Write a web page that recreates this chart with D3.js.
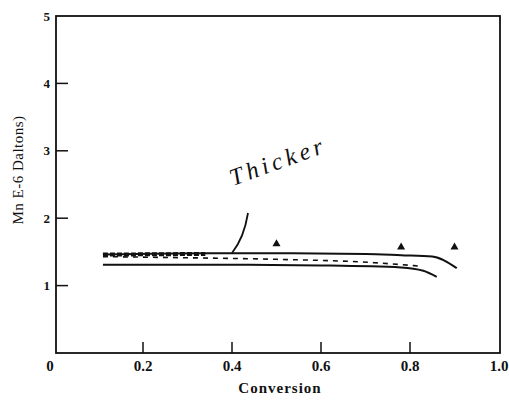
<!DOCTYPE html>
<html>
<head>
<meta charset="utf-8">
<script src="https://cdn.jsdelivr.net/npm/d3@7"></script>
<style>
  body { margin: 0; background: #fff; }
  svg { display: block; }
  text { font-family: "Liberation Serif", "DejaVu Serif", serif; fill: #111; }
</style>
</head>
<body>
<div id="chart"></div>
<script>
// data
const xTicks = [0, 0.2, 0.4, 0.6, 0.8, 1.0];
const xTickLabels = ["0", "0.2", "0.4", "0.6", "0.8", "1.0"];
const yTicks = [1, 2, 3, 4, 5];

const solidTop = [[0.11, 1.46], [0.35, 1.48], [0.5, 1.48], [0.7, 1.47], [0.78, 1.45], [0.85, 1.43], [0.905, 1.26]];
const thickPart = [[0.11, 1.46], [0.34, 1.47]];
const dashed = [[0.11, 1.43], [0.33, 1.41], [0.5, 1.39], [0.72, 1.34], [0.82, 1.29]];
const solidBottom = [[0.11, 1.31], [0.4, 1.31], [0.6, 1.30], [0.78, 1.27], [0.83, 1.22], [0.86, 1.13]];
const triangles = [[0.5, 1.62], [0.78, 1.57], [0.9, 1.57]];

const width = 509, height = 400;
const svg = d3.select("#chart").append("svg")
    .attr("width", width)
    .attr("height", height);

const x = d3.scaleLinear().domain([0, 1]).range([54, 499]);
const y = d3.scaleLinear().domain([0, 5]).range([353, 16]);

// frame
svg.append("rect")
    .attr("x", x(0) + 2).attr("y", y(5))
    .attr("width", x(1) - x(0) - 1).attr("height", y(0) - y(5))
    .attr("fill", "none").attr("stroke", "#111").attr("stroke-width", 1.8);

// y ticks (inward)
yTicks.filter(d => d < 5).forEach(d => {
    svg.append("line")
        .attr("x1", x(0) + 2).attr("x2", x(0) + 14)
        .attr("y1", y(d)).attr("y2", y(d))
        .attr("stroke", "#111").attr("stroke-width", 1.5);
});
yTicks.forEach(d => {
    svg.append("text")
        .attr("x", 50).attr("y", y(d))
        .attr("dy", "0.35em")
        .attr("text-anchor", "end")
        .attr("font-size", 13).attr("font-weight", "bold")
        .text(d);
});

// x ticks (inward)
xTicks.filter(d => d > 0 && d < 1).forEach(d => {
    svg.append("line")
        .attr("x1", x(d)).attr("x2", x(d))
        .attr("y1", y(0)).attr("y2", y(0) - 11)
        .attr("stroke", "#111").attr("stroke-width", 1.5);
});
xTicks.forEach((d, i) => {
    svg.append("text")
        .attr("x", d === 0 ? x(d) - 4 : x(d))
        .attr("y", y(0) + 18)
        .attr("text-anchor", "middle")
        .attr("font-size", 15).attr("font-weight", "bold")
        .text(xTickLabels[i]);
});

// axis titles
svg.append("text")
    .attr("x", 280).attr("y", 393)
    .attr("text-anchor", "middle")
    .attr("font-size", 15).attr("font-weight", "bold")
    .attr("letter-spacing", 1)
    .text("Conversion");

svg.append("text")
    .attr("transform", "translate(23,170) rotate(-90)")
    .attr("text-anchor", "middle")
    .attr("font-size", 15)
    .attr("letter-spacing", 0.5)
    .text("Mn  E-6 Daltons)");

// lines
const line = d3.line().x(d => x(d[0])).y(d => y(d[1])).curve(d3.curveMonotoneX);

svg.append("path").datum(solidTop)
    .attr("d", line).attr("fill", "none")
    .attr("stroke", "#111").attr("stroke-width", 2);

svg.append("path").datum(thickPart)
    .attr("d", line).attr("fill", "none")
    .attr("stroke", "#111").attr("stroke-width", 4)
    .attr("stroke-dasharray", "5,2");

svg.append("path").datum(dashed)
    .attr("d", line).attr("fill", "none")
    .attr("stroke", "#111").attr("stroke-width", 1.6)
    .attr("stroke-dasharray", "5,5");

svg.append("path").datum(solidBottom)
    .attr("d", line).attr("fill", "none")
    .attr("stroke", "#111").attr("stroke-width", 2);

// triangle markers
svg.selectAll(".tri").data(triangles).join("path")
    .attr("class", "tri")
    .attr("transform", d => `translate(${x(d[0])},${y(d[1])})`)
    .attr("d", d3.symbol().type(d3.symbolTriangle).size(28))
    .attr("fill", "#111");

// handwritten annotation
svg.append("text")
    .attr("transform", "translate(233,186) rotate(-20)")
    .attr("font-family", "DejaVu Serif")
    .attr("font-style", "italic")
    .attr("font-size", 24)
    .attr("letter-spacing", 4)
    .text("Thicker");

svg.append("path")
    .attr("d", "M248,213 Q244,238 232,253")
    .attr("fill", "none").attr("stroke", "#111").attr("stroke-width", 1.8);
</script>
</body>
</html>
